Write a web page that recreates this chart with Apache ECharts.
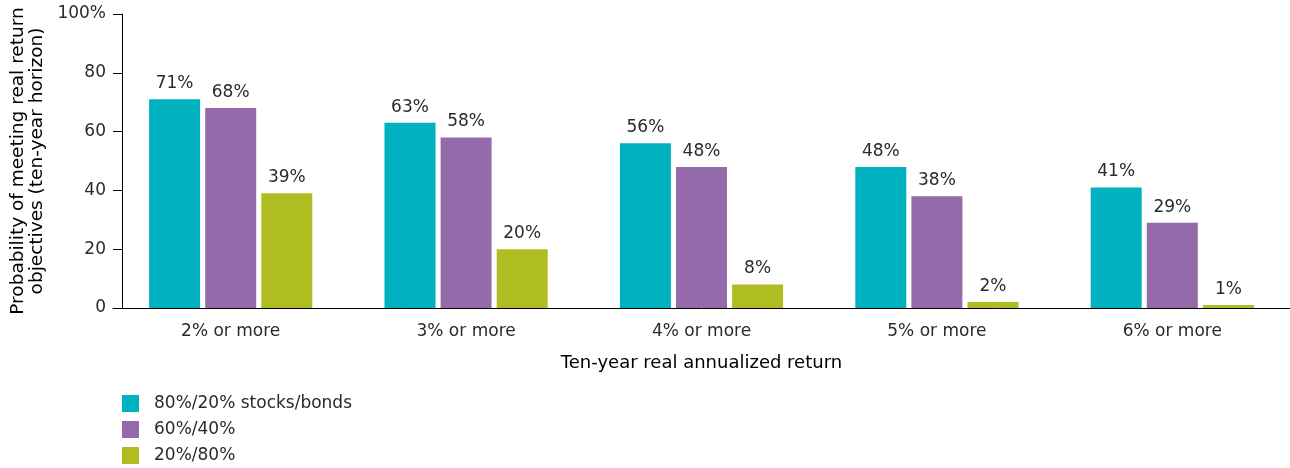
<!DOCTYPE html>
<html>
<head>
<meta charset="utf-8">
<script src="https://cdn.jsdelivr.net/npm/echarts@6/dist/echarts.min.js"></script>
<style>
html,body{margin:0;padding:0;background:#fff;}
#chart{width:1290px;height:468px;}
</style>
</head>
<body>
<div id="chart"></div>
<script>
const categories = ['2% or more', '3% or more', '4% or more', '5% or more', '6% or more'];
const seriesNames = ['80%/20% stocks/bonds', '60%/40%', '20%/80%'];
const stocks80 = [71, 63, 56, 48, 41];
const mix60 = [68, 58, 48, 38, 29];
const bonds80 = [39, 20, 8, 2, 1];
const yTicks = [0, 20, 40, 60, 80, 100];

const FONT = 'DejaVu Sans';
const TXT = '#2a2a2a';
const colors = ['#00B2BF', '#946AAB', '#B0BD22'];

const chart = echarts.init(document.getElementById('chart'), null, {renderer: 'canvas'});
const mk = (name, data, color) => ({
  name, type: 'bar', data, barWidth: 51, barGap: '10%',
  itemStyle: {color},
  label: {show: true, position: 'top', distance: 7, formatter: '{c}%',
    fontFamily: FONT, fontSize: 17, color: TXT},
  emphasis: {disabled: true}
});
chart.setOption({
  animation: false,
  textStyle: {fontFamily: FONT},
  grid: {left: 113, right: -8, top: 14, bottom: 160, containLabel: false},
  legend: {
    orient: 'vertical', left: 122, top: 395, height: 73, padding: 0,
    itemWidth: 17, itemHeight: 17, itemGap: 9,
    icon: 'rect',
    textStyle: {fontFamily: FONT, fontSize: 17, lineHeight: 17, color: TXT, padding: [0, 0, 0, 10]},
    data: seriesNames
  },
  xAxis: {
    type: 'category', data: categories,
    axisLine: {lineStyle: {color: '#000', width: 1}},
    axisTick: {show: false},
    axisLabel: {fontFamily: FONT, fontSize: 17, color: TXT, margin: 15},
    name: 'Ten-year real annualized return', nameLocation: 'middle', nameGap: 46,
    nameTextStyle: {fontFamily: FONT, fontSize: 18, color: '#000'}
  },
  yAxis: {
    type: 'value', min: 0, max: 100, interval: 20, offset: -9,
    axisLine: {show: true, lineStyle: {color: '#000', width: 1}},
    axisTick: {show: true, length: 9, lineStyle: {color: '#000'}},
    splitLine: {show: false},
    axisLabel: {fontFamily: FONT, fontSize: 17, color: TXT, margin: 16,
      formatter: v => (v === 100 ? '100%' : String(v))},
    name: 'Probability of meeting real return\nobjectives (ten-year horizon)',
    nameLocation: 'middle', nameGap: 74, nameRotate: 90,
    nameTextStyle: {fontFamily: FONT, fontSize: 18.5, color: '#000', lineHeight: 19}
  },
  series: [mk(seriesNames[0], stocks80, colors[0]), mk(seriesNames[1], mix60, colors[1]), mk(seriesNames[2], bonds80, colors[2])]
});
</script>
</body>
</html>
